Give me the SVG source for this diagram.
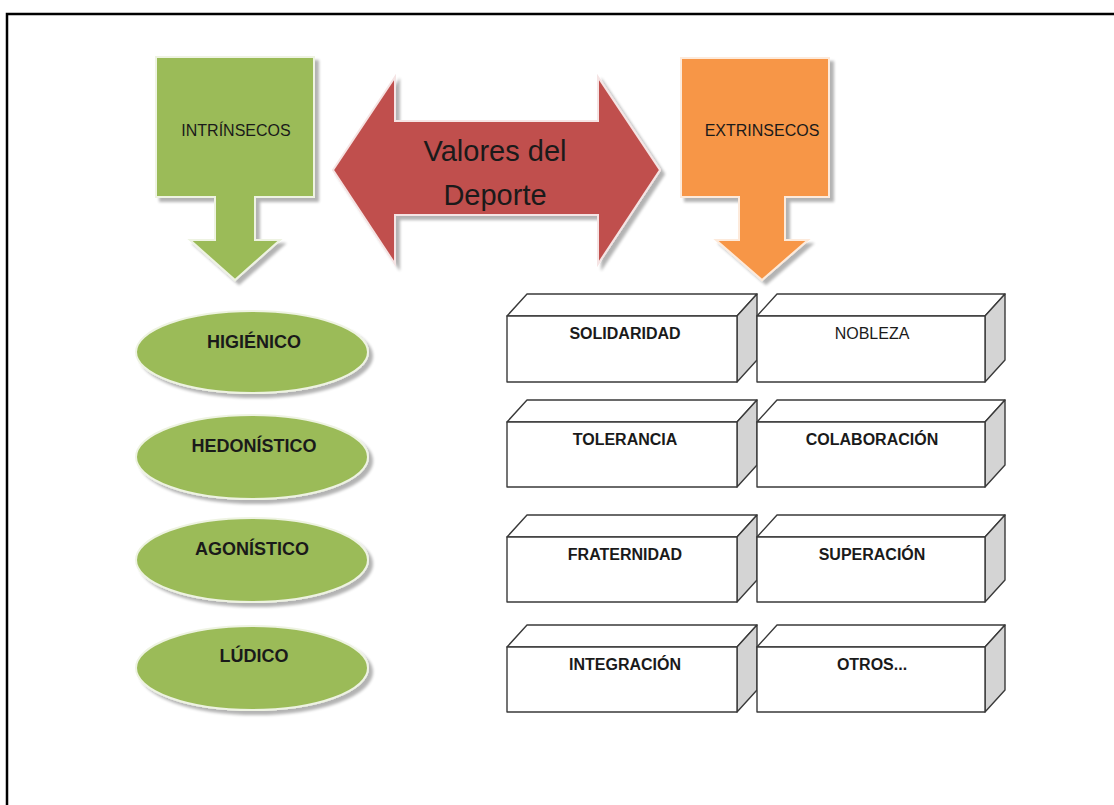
<svg xmlns="http://www.w3.org/2000/svg" width="1114" height="805" viewBox="0 0 1114 805">
<defs>
<filter id="sh" x="-10%" y="-10%" width="130%" height="130%">
<feGaussianBlur in="SourceAlpha" stdDeviation="1.5"/>
<feOffset dx="4" dy="4" result="o"/>
<feComponentTransfer><feFuncA type="linear" slope="0.3"/></feComponentTransfer>
<feMerge><feMergeNode/><feMergeNode in="SourceGraphic"/></feMerge>
</filter>
</defs>
<style>
.frame{fill:none;stroke:#000;stroke-width:2.5}
.green{fill:#9bbb59;stroke:#eef3e2;stroke-width:2;filter:url(#sh)}
.red{fill:#c0504d;stroke:#f5e4e4;stroke-width:2;filter:url(#sh)}
.orange{fill:#f79646;stroke:#fdeadb;stroke-width:2;filter:url(#sh)}
.face{fill:#fff;stroke:#3a3a3a;stroke-width:1.4;stroke-linejoin:round}
.side{fill:#d4d4d4;stroke:#3a3a3a;stroke-width:1.4;stroke-linejoin:round}
.t{font-family:"Liberation Sans",Arial,sans-serif;fill:#1a1a1a;text-anchor:middle}
.cap{font-size:16px}
.big{font-size:29px}
.el{font-size:18px;font-weight:bold}
.bx{font-size:16px;font-weight:bold}
.bxn{font-size:16px}
</style>
<rect class="frame" x="7" y="14" width="1120" height="800"/>

<g id="intrinsecos">
<path class="green" d="M156,57 H314 V197 H255 V240 H280 L235,280 L190,240 H215 V197 H156 Z"/>
<text class="t cap" x="236" y="136">INTRÍNSECOS</text>
</g>

<g id="valores">
<path class="red" d="M333,170 L395,77 V121 H598 V77 L660,170 L598,264 V215 H395 V264 Z"/>
<text class="t big" x="495" y="161">Valores del</text>
<text class="t big" x="495" y="205">Deporte</text>
</g>

<g id="extrinsecos">
<path class="orange" d="M681,58 H829 V197 H785 V240 H808 L762,280 L716,240 H739 V197 H681 Z"/>
<text class="t cap" x="762" y="136">EXTRINSECOS</text>
</g>

<g id="higienico">
<ellipse class="green" cx="252" cy="352" rx="116" ry="41"/>
<text class="t el" x="254" y="348">HIGIÉNICO</text>
</g>
<g id="hedonistico">
<ellipse class="green" cx="252" cy="457" rx="116" ry="42"/>
<text class="t el" x="254" y="452">HEDONÍSTICO</text>
</g>
<g id="agonistico">
<ellipse class="green" cx="252" cy="560" rx="116" ry="42"/>
<text class="t el" x="252" y="555">AGONÍSTICO</text>
</g>
<g id="ludico">
<ellipse class="green" cx="252" cy="668" rx="116" ry="42"/>
<text class="t el" x="254" y="662">LÚDICO</text>
</g>

<g id="solidaridad">
<path class="face" d="M507,316 L527,294 H757 L737,316 Z"/>
<path class="side" d="M737,316 L757,294 V360 L737,382 Z"/>
<rect class="face" x="507" y="316" width="230" height="66"/>
<text class="t bx" x="625" y="339">SOLIDARIDAD</text>
</g>
<g id="nobleza">
<path class="face" d="M757,316 L777,294 H1005 L985,316 Z"/>
<path class="side" d="M985,316 L1005,294 V360 L985,382 Z"/>
<rect class="face" x="757" y="316" width="228" height="66"/>
<text class="t bxn" x="872" y="339">NOBLEZA</text>
</g>

<g id="tolerancia">
<path class="face" d="M507,422 L527,400 H757 L737,422 Z"/>
<path class="side" d="M737,422 L757,400 V465 L737,487 Z"/>
<rect class="face" x="507" y="422" width="230" height="65"/>
<text class="t bx" x="625" y="445">TOLERANCIA</text>
</g>
<g id="colaboracion">
<path class="face" d="M757,422 L777,400 H1005 L985,422 Z"/>
<path class="side" d="M985,422 L1005,400 V465 L985,487 Z"/>
<rect class="face" x="757" y="422" width="228" height="65"/>
<text class="t bx" x="872" y="445">COLABORACIÓN</text>
</g>

<g id="fraternidad">
<path class="face" d="M507,537 L527,515 H757 L737,537 Z"/>
<path class="side" d="M737,537 L757,515 V580 L737,602 Z"/>
<rect class="face" x="507" y="537" width="230" height="65"/>
<text class="t bx" x="625" y="560">FRATERNIDAD</text>
</g>
<g id="superacion">
<path class="face" d="M757,537 L777,515 H1005 L985,537 Z"/>
<path class="side" d="M985,537 L1005,515 V580 L985,602 Z"/>
<rect class="face" x="757" y="537" width="228" height="65"/>
<text class="t bx" x="872" y="560">SUPERACIÓN</text>
</g>

<g id="integracion">
<path class="face" d="M507,647 L527,625 H757 L737,647 Z"/>
<path class="side" d="M737,647 L757,625 V690 L737,712 Z"/>
<rect class="face" x="507" y="647" width="230" height="65"/>
<text class="t bx" x="625" y="670">INTEGRACIÓN</text>
</g>
<g id="otros">
<path class="face" d="M757,647 L777,625 H1005 L985,647 Z"/>
<path class="side" d="M985,647 L1005,625 V690 L985,712 Z"/>
<rect class="face" x="757" y="647" width="228" height="65"/>
<text class="t bx" x="872" y="670">OTROS...</text>
</g>

<g id="connectors"></g>
</svg>
